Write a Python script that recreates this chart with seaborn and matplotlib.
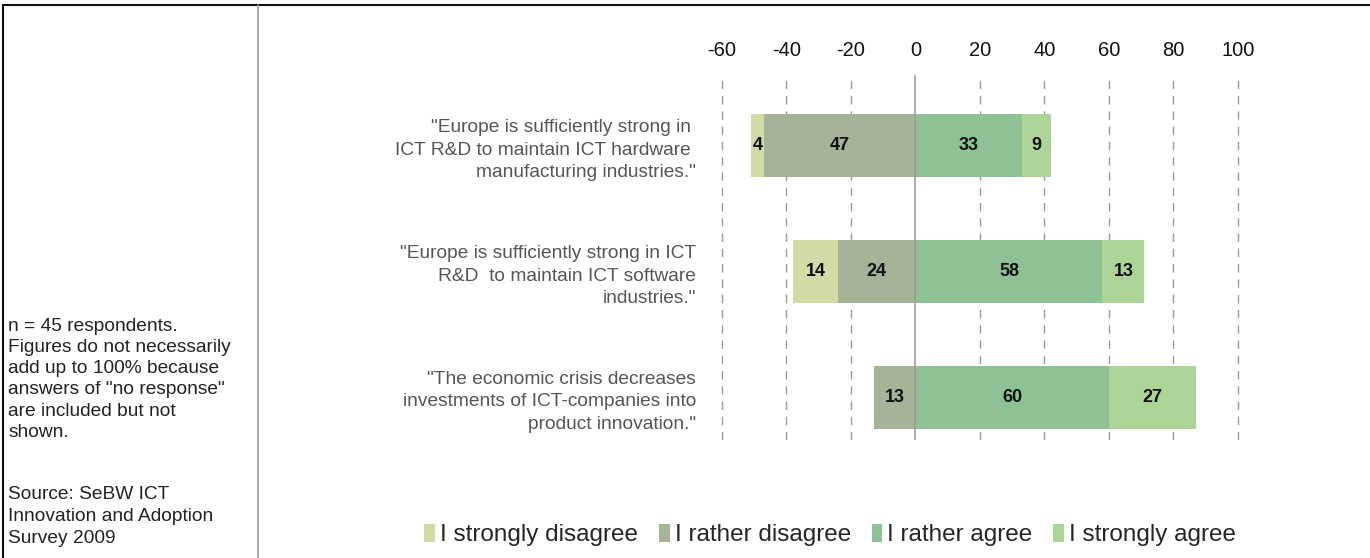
import matplotlib
matplotlib.use("Agg")
import matplotlib.pyplot as plt
from matplotlib.lines import Line2D
from matplotlib.patches import Patch
import seaborn as sns
import pandas as pd

# statements (y categories)
statements = [
    '"Europe is sufficiently strong in \nICT R&D to maintain ICT hardware \nmanufacturing industries."',
    '"Europe is sufficiently strong in ICT\nR&D  to maintain ICT software\nindustries."',
    '"The economic crisis decreases\ninvestments of ICT-companies into\nproduct innovation."',
]
strongly_disagree = [4, 14, 0]
rather_disagree = [47, 24, 13]
rather_agree = [33, 58, 60]
strongly_agree = [9, 13, 27]

legend_labels = ["I strongly disagree", "I rather disagree", "I rather agree", "I strongly agree"]
colors = ["#d2daa6", "#a5b398", "#8ec294", "#acd497"]
xticks = [-60, -40, -20, 0, 20, 40, 60, 80, 100]

note = 'n = 45 respondents.\nFigures do not necessarily\nadd up to 100% because\nanswers of "no response"\nare included but not\nshown.'
source = 'Source: SeBW ICT\nInnovation and Adoption\nSurvey 2009'

sns.set_style("white")
plt.rcParams["font.family"] = ["Liberation Sans", "DejaVu Sans"]
plt.rcParams["axes.unicode_minus"] = False

df = pd.DataFrame({
    "statement": statements,
    "sd": strongly_disagree,
    "rd": rather_disagree,
    "ra": rather_agree,
    "sa": strongly_agree,
})
df["neg_outer"] = -(df["sd"] + df["rd"])
df["neg_inner"] = -df["rd"]
df["pos_outer"] = df["ra"] + df["sa"]
df["pos_inner"] = df["ra"]

fig = plt.figure(figsize=(13.7, 5.58), dpi=100)
ax = fig.add_axes([0.5223, 0.2115, 0.386, 0.654])

# stacked look: draw outer totals first, inner segments over them
for col, c in [("neg_outer", colors[0]), ("neg_inner", colors[1]),
               ("pos_outer", colors[3]), ("pos_inner", colors[2])]:
    sns.barplot(data=df, x=col, y="statement", orient="h", color=c,
                width=0.5, ax=ax, saturation=1, linewidth=0)

ax.set_xlim(-62, 102)
ax.set_ylim(2.34, -0.56)
ax.set_xticks(xticks)
ax.xaxis.tick_top()
ax.tick_params(axis="x", length=0, pad=11, labelsize=14.5, colors="#111111")
ax.tick_params(axis="y", length=0, pad=14, labelsize=13.8, labelcolor="#555555")
for lab in ax.get_yticklabels():
    lab.set_horizontalalignment("right")
    lab.set_linespacing(1.42)
ax.set_xlabel("")
ax.set_ylabel("")
for s in ax.spines.values():
    s.set_visible(False)
for t in xticks:
    if t == 0:
        ax.axvline(0, color="#999999", lw=1.1, zorder=3)
    else:
        ax.axvline(t, color="#999999", lw=1, ls=(0, (6, 5)), zorder=0)

# value labels
for i, row in df.iterrows():
    segs = [(-row["rd"] - row["sd"], row["sd"]), (-row["rd"], row["rd"]),
            (0, row["ra"]), (row["ra"], row["sa"])]
    for start, val in segs:
        if val > 0:
            ax.text(start + val / 2, i, str(val), ha="center", va="center",
                    fontsize=13, fontweight="bold", color="#111111", zorder=5)

# side note
fig.text(0.006, 1 - 318 / 558, note, ha="left", va="top", fontsize=13.8,
         color="#222222", linespacing=1.32)
fig.text(0.006, 1 - 486 / 558, source, ha="left", va="top", fontsize=13.8,
         color="#222222", linespacing=1.4)

# frame and divider
fig.add_artist(Line2D([3 / 1370, 1], [1 - 5 / 558, 1 - 5 / 558], color="#111111", lw=1.5))
fig.add_artist(Line2D([3 / 1370, 3 / 1370], [0, 1 - 5 / 558], color="#111111", lw=1.5))
fig.add_artist(Line2D([258 / 1370, 258 / 1370], [0, 1 - 5 / 558], color="#999999", lw=1.2))

handles = [Patch(facecolor=c, edgecolor="none") for c in colors]
fig.legend(handles, legend_labels, loc="center", bbox_to_anchor=(0.606, 0.041),
           ncol=4, frameon=False, fontsize=17.5, handlelength=0.45, handleheight=0.75,
           handletextpad=0.2, columnspacing=0.85)

fig.savefig("out.png", dpi=100)
